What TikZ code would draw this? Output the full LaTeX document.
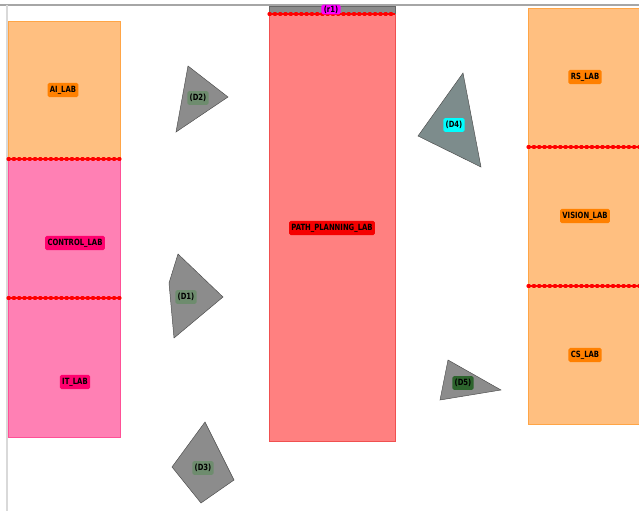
\documentclass[tikz,border=0pt]{standalone}
\usepackage{fontspec}
\newfontfamily\tagfont[FakeStretch=0.8]{DejaVu Sans}

\definecolor{labOrange}{RGB}{255,191,128}
\definecolor{labOrangeEdge}{RGB}{255,165,70}
\definecolor{tagOrange}{RGB}{255,128,0}
\definecolor{labPink}{RGB}{255,128,180}
\definecolor{labPinkEdge}{RGB}{255,80,150}
\definecolor{tagPink}{RGB}{255,0,110}
\definecolor{labRed}{RGB}{255,128,128}
\definecolor{labRedEdge}{RGB}{240,80,80}
\definecolor{tagRed}{RGB}{245,0,0}
\definecolor{tagMagenta}{RGB}{255,0,255}
\definecolor{tagCyan}{RGB}{0,255,255}
\definecolor{obstGray}{RGB}{140,140,140}
\definecolor{obstTeal}{RGB}{125,140,140}
\definecolor{tagGreen}{RGB}{110,140,110}
\definecolor{tagDark}{RGB}{45,100,45}
\definecolor{wallRed}{RGB}{255,0,0}

\tikzset{
  tag/.style={rounded corners=1.5pt, inner xsep=2pt, inner ysep=2.6pt, text=black},
  wall/.style={wallRed, line width=2.6pt, dash pattern=on 1.2pt off 3.3pt, line cap=round,
    preaction={draw, wallRed, solid, line width=0.9pt}},
  obst/.style={draw=black!70, line width=0.4pt},
}

\begin{document}
\begin{tikzpicture}[x=0.03cm, y=-0.03cm, every node/.style={font=\tagfont\bfseries\fontsize{7.3}{8}\selectfont}]
	\useasboundingbox (0,0) rectangle (639,511);
	% frame
	\draw[black!35, line width=1.5pt] (0,5) -- (639,5);
	\draw[black!15, line width=1.5pt] (7,5) -- (7,511);
	% left rooms
	\fill[labOrange] (8,21) rectangle (120,159);
	\fill[labPink] (8,159) rectangle (120,437);
	\draw[labOrangeEdge, line width=0.4pt] (8,159) -- (8,21) -- (120,21) -- (120,159);
	\draw[labPinkEdge, line width=0.4pt] (8,159) -- (8,437) -- (120,437) -- (120,159);
	\draw[wall] (8,159) -- (120,159);
	\draw[wall] (8,298) -- (120,298);
	\node[tag, fill=tagOrange] (ai) at (63,90) {AI\_LAB};
	\node[tag, fill=tagPink] (control) at (75,243) {CONTROL\_LAB};
	\node[tag, fill=tagPink] (it) at (75,382) {IT\_LAB};
	% middle room
	\fill[obstGray, draw=black!60, line width=0.4pt] (269,6) rectangle (395,14);
	\fill[labRed, draw=labRedEdge, line width=0.4pt] (269,14) rectangle (395,441);
	\draw[wall] (269,14) -- (395,14);
	\node[tag, fill=tagMagenta, inner ysep=1pt] (r1) at (331,9.5) {(r1)};
	\node[tag, fill=tagRed] (path) at (332,228) {PATH\_PLANNING\_LAB};
	% right rooms
	\fill[labOrange, draw=labOrangeEdge, line width=0.4pt] (639,8) -- (528,8) -- (528,424) -- (639,424);
	\draw[wall] (528,147) -- (639,147);
	\draw[wall] (528,286) -- (639,286);
	\node[tag, fill=tagOrange] (rs) at (585,77) {RS\_LAB};
	\node[tag, fill=tagOrange] (vision) at (585,216) {VISION\_LAB};
	\node[tag, fill=tagOrange] (cs) at (585,355) {CS\_LAB};
	% obstacles
	\filldraw[obst, fill=obstGray] (188,66) -- (228,97) -- (176,132) -- cycle;
	\filldraw[obst, fill=obstGray] (178,254) -- (223,297) -- (174,338) -- (169,283) -- cycle;
	\filldraw[obst, fill=obstGray] (205,422) -- (234,480) -- (201,503) -- (172,467) -- cycle;
	\filldraw[obst, fill=obstTeal] (463,73) -- (481,167) -- (418,136) -- cycle;
	\filldraw[obst, fill=obstGray] (448,360) -- (501,390) -- (440,400) -- cycle;
	\node[tag, fill=tagGreen] (d2) at (198,98) {(D2)};
	\node[tag, fill=tagGreen] (d1) at (186,297) {(D1)};
	\node[tag, fill=tagGreen] (d3) at (203,468) {(D3)};
	\node[tag, fill=tagCyan] (d4) at (454,125) {(D4)};
	\node[tag, fill=tagDark] (d5) at (463,383) {(D5)};
\end{tikzpicture}
\end{document}
